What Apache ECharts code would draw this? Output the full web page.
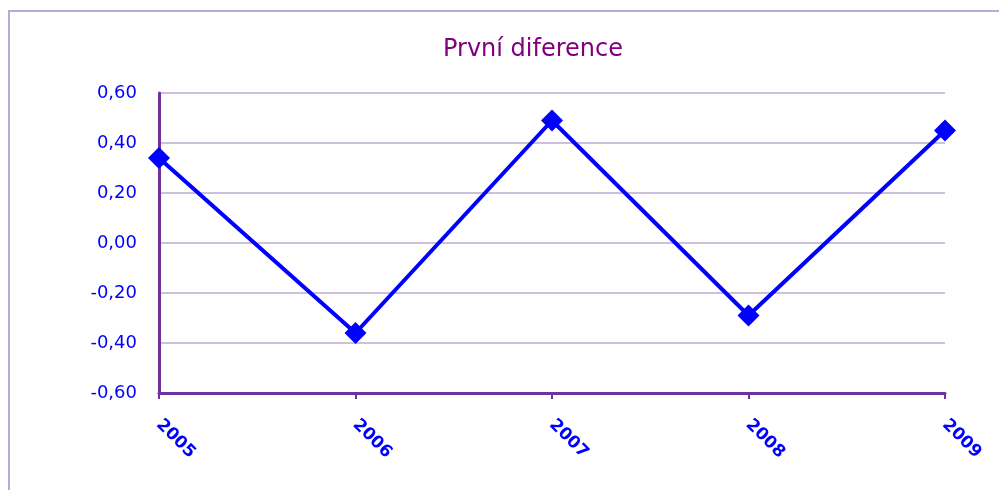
<!DOCTYPE html>
<html>
<head>
<meta charset="utf-8">
<script src="https://cdn.jsdelivr.net/npm/echarts@6/dist/echarts.min.js"></script>
<style>
  html, body { margin: 0; padding: 0; background: #fff; }
  #chart { width: 999px; height: 490px; }
</style>
</head>
<body>
<div id="chart"></div>
<script>
// data
const years = ['2005', '2006', '2007', '2008', '2009'];
const diffValues = [0.34, -0.36, 0.49, -0.29, 0.45];
const chartTitle = 'První diference';

const myChart = echarts.init(document.getElementById('chart'));

// carka misto tecky
function fmt(v) {
    return v.toFixed(2).replace('.', ',');
}

const option = {
    backgroundColor: '#fff',
    animation: false,
    title: {
        text: chartTitle,
        left: 528,
        textAlign: 'center',
        top: 33,
        textStyle: {
            color: '#800080',
            fontFamily: '"DejaVu Sans", sans-serif',
            fontSize: 24,
            fontWeight: 'normal'
        }
    },
    graphic: [{
        type: 'rect',
        shape: { x: 9, y: 11, width: 1100, height: 600 },
        style: { fill: 'none', stroke: '#BBA8D8', lineWidth: 2 },
        silent: true
    }],
    grid: {
        left: 159,
        right: 54,
        top: 93,
        bottom: 97,
        containLabel: false
    },
    xAxis: {
        type: 'category',
        data: years,
        boundaryGap: false,
        axisLine: {
            onZero: false,
            lineStyle: { color: '#7030A0', width: 3 }
        },
        axisTick: {
            show: true,
            length: 6,
            lineStyle: { color: '#7030A0', width: 2 }
        },
        axisLabel: {
            rotate: -45,
            margin: 29,
            color: '#0000FF',
            fontSize: 17,
            fontWeight: 'bold',
            fontFamily: '"DejaVu Sans", sans-serif'
        },
        splitLine: { show: false }
    },
    yAxis: {
        type: 'value',
        min: -0.6,
        max: 0.6,
        interval: 0.2,
        axisLine: {
            show: true,
            lineStyle: { color: '#7030A0', width: 3 }
        },
        axisTick: { show: false },
        axisLabel: {
            margin: 22,
            color: '#0000FF',
            fontSize: 18,
            fontFamily: '"DejaVu Sans", sans-serif',
            formatter: fmt
        },
        splitLine: {
            show: true,
            lineStyle: { color: '#CCC0DC', width: 2 }
        }
    },
    series: [{
        name: chartTitle,
        type: 'line',
        data: diffValues,
        symbol: 'diamond',
        symbolSize: 22,
        itemStyle: { color: '#0000FF' },
        lineStyle: { color: '#0000FF', width: 4 }
    }]
};

myChart.setOption(option);
</script>
</body>
</html>
